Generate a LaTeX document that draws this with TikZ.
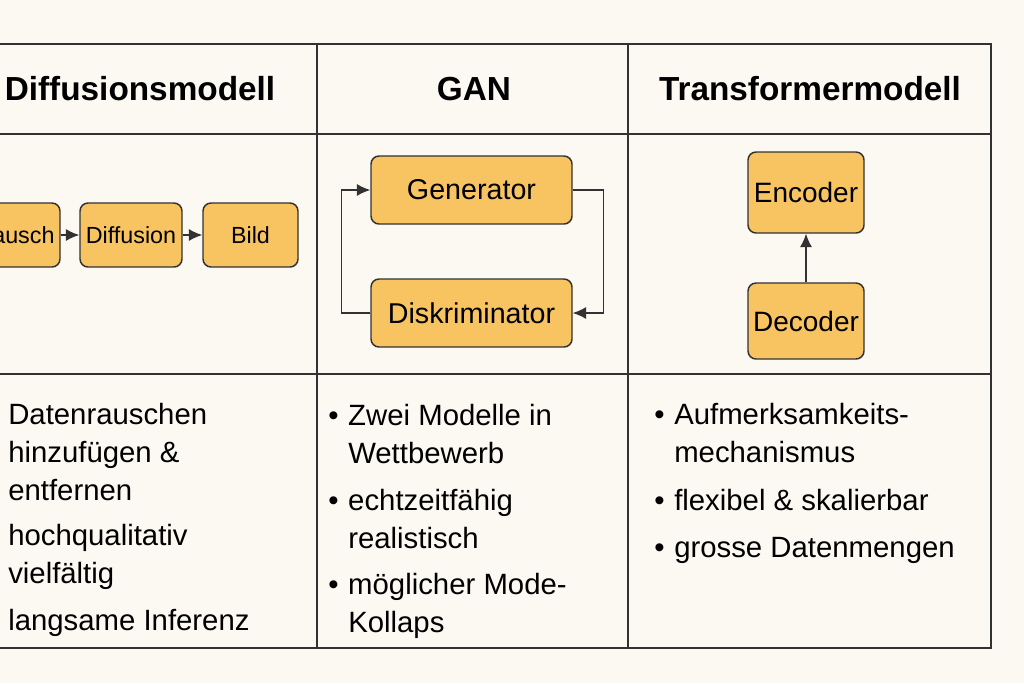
\documentclass[tikz,border=0pt]{standalone}
\usepackage{fontspec}
\setmainfont{Liberation Sans}
\usepackage{tikz}
\usetikzlibrary{arrows.meta,positioning}

\definecolor{bgcream}{RGB}{252,249,242}
\definecolor{boxfill}{RGB}{248,196,98}
\definecolor{lineg}{RGB}{50,50,50}

\tikzset{
  block/.style={draw=lineg, line width=1.1pt, fill=boxfill, rounded corners=6pt, inner sep=0pt, align=center},
  smallblock/.style={block, minimum height=48pt, font=\fontsize{17.5}{20}\selectfont},
  arr/.style={-{Latex[length=10pt,width=9pt]}, line width=1pt, draw=lineg},
  grid/.style={line width=1.1pt, draw=lineg},
  head/.style={font=\fontsize{25}{30}\bfseries\selectfont, inner sep=0pt},
  body/.style={anchor=base west, inner sep=0pt, align=left, font=\fontsize{22}{28.5}\selectfont}
}
\newcommand{\bul}{\makebox[15pt][l]{\textbullet}}
\newcommand{\ind}{\hspace*{15pt}}

\begin{document}
\begin{tikzpicture}[x=0.75pt,y=0.75pt,yscale=-1,xscale=1]
\useasboundingbox (0,0) rectangle (1024,683);
\clip (0,0) rectangle (1024,683);
\fill[bgcream] (0,0) rectangle (1024,683);

%Table lines
\draw[grid] (-37,44) rectangle (991,648);
\draw[grid] (-37,134) -- (991,134);
\draw[grid] (-37,374) -- (991,374);
\draw[grid] (317,44) -- (317,648);
\draw[grid] (628,44) -- (628,648);

% Header nodes
\node[head] (hdiff) at (140,89) {Diffusionsmodell};
\node[head] (hgan) at (474,89) {GAN};
\node[head] (htrans) at (810,89) {Transformermodell};

% Diffusion chain
\node[smallblock, minimum width=67.5pt] (rausch) at (15,235) {Rausch};
\node[smallblock, minimum width=76.5pt] (diffusion) at (131,235) {Diffusion};
\node[smallblock, minimum width=71.25pt] (bild) at (250.5,235) {Bild};
\draw[arr] (rausch) -- (diffusion);
\draw[arr] (diffusion) -- (bild);

% GAN loop
\node[block, minimum width=150.75pt, minimum height=51pt, font=\fontsize{21.5}{24}\selectfont] (gen) at (471.5,190) {Generator};
\node[block, minimum width=150.75pt, minimum height=51pt, font=\fontsize{21.5}{24}\selectfont] (disk) at (471.5,313) {Diskriminator};
\draw[arr] (gen.east) -- ++(31,0) |- (disk.east);
\draw[arr] (disk.west) -- ++(-29,0) |- (gen.west);

% Transformer
\node[block, minimum width=87pt, minimum height=60.75pt, font=\fontsize{21}{24}\selectfont] (enc) at (806,192.5) {Encoder};
\node[block, minimum width=87pt, minimum height=57pt, font=\fontsize{21}{24}\selectfont] (dec) at (806,321) {Decoder};
\draw[arr] (dec) -- (enc);

% Text Node (placed at baseline of last line)
\node[body] (d1) at (8,500) {Datenrauschen\\hinzufügen \&\\entfernen};
\node[body] (d2) at (8,583) {hochqualitativ\\vielfältig};
\node[body] (d3) at (8,630) {langsame Inferenz};
% Text Node
\node[body] (g1) at (328,463) {\bul Zwei Modelle in\\\ind Wettbewerb};
\node[body] (g2) at (328,548) {\bul echtzeitfähig\\\ind realistisch};
\node[body] (g3) at (328,632) {\bul möglicher Mode-\\\ind Kollaps};
% Text Node
\node[body] (t1) at (654,462) {\bul Aufmerksamkeits-\\\ind mechanismus};
\node[body] (t2) at (654,510) {\bul flexibel \& skalierbar};
\node[body] (t3) at (654,557) {\bul grosse Datenmengen};

\end{tikzpicture}
\end{document}
